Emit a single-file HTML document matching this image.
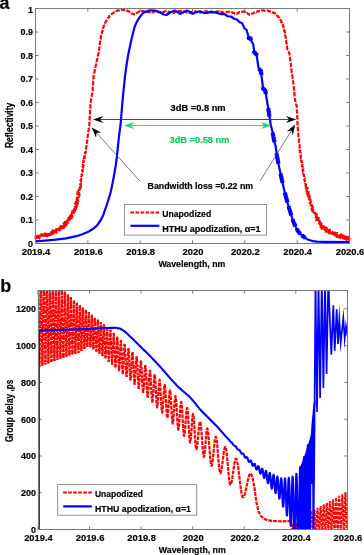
<!DOCTYPE html><html><head><meta charset="utf-8"><style>html,body{margin:0;padding:0;background:#fff;overflow:hidden}svg{display:block;will-change:transform}text{font-family:"Liberation Sans", sans-serif;font-weight:bold;stroke:currentColor;stroke-width:1.8px}</style></head><body>
<svg width="364" height="555" viewBox="0 0 364 555">
<rect width="364" height="555" fill="#fff"/>
<defs><clipPath id="ca"><rect x="35.5" y="8.5" width="314" height="235"/></clipPath>
<clipPath id="cb"><rect x="37.8" y="290.5" width="309.7" height="239"/></clipPath></defs>
<path d="M35.5 243.5v-3.2M35.5 8.5v3.2M87.83 243.5v-3.2M87.83 8.5v3.2M140.17 243.5v-3.2M140.17 8.5v3.2M192.5 243.5v-3.2M192.5 8.5v3.2M244.83 243.5v-3.2M244.83 8.5v3.2M297.17 243.5v-3.2M297.17 8.5v3.2M349.5 243.5v-3.2M349.5 8.5v3.2M35.5 243.5h3.2M349.5 243.5h-3.2M35.5 220h3.2M349.5 220h-3.2M35.5 196.5h3.2M349.5 196.5h-3.2M35.5 173h3.2M349.5 173h-3.2M35.5 149.5h3.2M349.5 149.5h-3.2M35.5 126h3.2M349.5 126h-3.2M35.5 102.5h3.2M349.5 102.5h-3.2M35.5 79h3.2M349.5 79h-3.2M35.5 55.5h3.2M349.5 55.5h-3.2M35.5 32h3.2M349.5 32h-3.2M35.5 8.5h3.2M349.5 8.5h-3.2" stroke="#7a7a7a" stroke-width="1" fill="none"/>
<polyline points="35.56,239.14 35.68,236.18 37.52,238.71 37.56,235.5 39.53,238.44 39.68,235.59 41.19,237.08 41.32,234.03 43.2,236.82 43.46,234.22 45.39,237.17 45.23,233.34 47.29,236.32 47.12,232.69 49.11,235.43 49.15,232.46 51,234.78 50.75,230.92 52.89,233.95 52.6,230.39 54.83,233.42 54.79,230.51 56.86,232.73 56.25,229.1 58.41,231.33 58.37,228.91 60.54,231.14 59.5,227.52 62.38,229.48 60.71,225.85 63.93,228.21 62.23,224.54 65.33,226.42 63.5,223.45 66.71,224.96 64.69,221.84 68.46,223.85 66.85,221.08 69.11,221.55 67.8,219.49 71.12,220.48 68.65,217.66 71.84,218.56 69.79,216.14 72.75,216.62 71.03,214.54 73.15,214.56 71.83,212.7 74.26,212.76 72.3,210.86 75.11,210.94 73.04,209 76.02,209.11 73.7,207.16 76.58,207.18 75.11,205.56 77.45,205.38 74.99,203.57 78.02,203.28 75.8,201.71 78.32,201.29 76.58,199.84 78.9,199.37 76.68,197.86 78.81,197.26 77.51,195.99 79.69,195.39 77.07,193.87 79.39,193.28 77.59,191.96 80.01,191.36 78.5,190.09 80.24,189.37 78.28,188.02 81.09,187.48 79.26,186.16 81.19,185.47 79.97,184.25 80.88,183.39 80.2,182.26 81.27,181.43 80.31,180.25 81.47,179.43 80.61,178.28 81.71,177.44 81.25,176.36 82.11,175.48 81.57,174.38 82.28,173.48 81.74,172.38 82.73,171.53 82.13,170.42 82.82,169.51 82.16,168.41 83.19,167.54 82.39,166.43 83.66,165.59 82.87,164.47 83.77,163.59 83.08,162.48 84.11,161.61 83.35,160.48 84.42,159.66 83.71,158.51 84.92,157.72 84.12,156.55 85.1,155.72 84.41,154.57 85.4,153.74 84.92,152.63 86.03,151.82 85.21,150.65 85.96,149.78 85.92,148.75 86.31,147.81 86.22,146.77 86.58,145.82 86.48,144.8 86.91,143.85 86.8,142.82 87.16,141.86 87,140.83 87.42,139.88 87.27,138.85 87.68,137.9 87.48,136.86 87.86,135.9 87.81,134.89 88.19,133.93 87.96,132.89 88.39,131.94 88.28,130.91 88.71,129.96 88.58,128.94 88.97,127.98 88.88,126.96 89.26,126 89.14,124.97 89.46,124 89.28,122.99 89.63,122.01 89.43,121 89.71,120.01 89.45,119 89.79,118.01 89.62,117 89.95,116.02 89.72,115 89.99,114.02 89.81,113.01 90.15,112.02 89.95,111.01 90.22,110.02 90.03,109.01 90.39,108.03 90.13,107.01 90.5,106.03 90.27,105.02 90.57,104.05 90.45,103.02 90.93,102.08 90.76,101.04 91.15,100.09 91.1,99.07 91.48,98.12 91.38,97.09 91.85,96.16 91.69,95.11 92.16,94.18 92.14,93.16 92.62,92.23 92.46,91.2 92.85,90.23 92.62,89.21 92.91,88.23 92.76,87.22 93.12,86.24 92.9,85.22 93.2,84.24 93.01,83.22 93.34,82.24 93.14,81.23 93.53,80.25 93.31,79.23 93.55,78.25 93.34,77.23 93.79,76.29 93.62,75.23 94.14,74.31 94.02,73.27 94.6,72.37 94.5,71.33 94.97,70.4 94.83,69.35 95.36,68.44 95.27,67.4 95.72,66.47 95.69,65.44 96.13,64.52 96.16,63.5 96.61,62.57 96.57,61.54 97.07,60.63 97.03,59.6 97.51,58.68 97.39,57.63 97.95,56.73 97.8,55.67 98.39,54.77 98.27,53.73 98.72,52.8 98.62,51.77 99.02,50.82 98.93,49.8 99.33,48.84 99.16,47.81 99.55,46.85 99.36,45.82 99.83,44.87 99.69,43.84 100.04,42.88 99.88,41.85 100.32,40.9 100.03,39.83 100.74,38.96 100.56,37.9 101.2,37.01 100.86,35.92 101.54,35.04 101.28,33.96 102.12,33.12 101.76,32 102.63,31.21 102.47,30.12 103.14,29.27 102.84,28.15 103.56,27.31 103.5,26.26 104.15,25.4 104.04,24.28 104.94,23.63 105,22.52 105.96,21.91 106.04,20.82 106.78,20.08 106.98,19.05 107.83,18.43 108.24,17.46 109.26,17.02 109.4,15.82 110.41,15.37 110.75,14.35 111.82,14.08 112.48,13.22 113.55,13.08 114.17,12.15 115.31,12.12 115.93,11.2 117,11.04 117.79,10.33 118.84,10.55 119.76,9.98 120.83,10.37 121.74,9.71 122.79,9.93 123.73,9.45 124.64,10.07 125.74,9.92 126.52,10.77 127.63,10.58 128.28,11.45 129.42,11.59 129.92,12.59 130.99,12.84 131.62,13.79 132.72,13.55 133.55,14.31 134.65,14.09 135.55,14.11 136.14,13.19 137.21,13 137.78,12.01 138.86,11.89 139.54,11.06 140.56,11.26 141.6,10.78 142.55,11.51 143.59,11.02 144.5,11.66 145.61,11.23 146.49,11.92 147.55,11.7 148.45,12.3 149.53,12.03 150.5,12.55 151.37,11.77 152.47,12.2 153.34,11.43 154.43,11.81 155.41,11.23 156.29,11.88 157.36,11.7 158.24,12.32 159.28,12.25 160.29,12.84 161.15,12.16 162.2,12.22 163.09,11.67 164.18,11.91 165.03,11.18 166.08,11.25 167.11,10.9 167.86,11.72 168.97,11.64 169.67,12.57 170.82,12.39 171.51,13.37 172.47,12.74 173.61,12.92 174.38,12.14 175.48,12.2 176.22,11.33 177.27,11.58 178.25,11.08 179.27,11.48 180.24,10.8 181.26,11.24 182.24,10.83 183.13,11.33 184.28,11.17 185.02,12.01 186.08,12.04 186.87,12.76 187.97,12.7 188.91,13.04 189.72,12.25 190.81,12.39 191.64,11.68 192.72,11.81 193.55,11.1 194.55,11.49 195.61,11.32 196.45,12.13 197.56,11.8 198.41,12.53 199.49,12.3 200.5,12.76 201.31,11.94 202.43,12.24 203.26,11.47 204.35,11.69 205.18,10.93 206.12,11.38 207.23,11.19 208.09,11.79 209.18,11.64 209.95,12.53 211.08,12.26 211.9,13.01 212.86,12.28 213.95,12.5 214.83,11.89 215.89,12.01 216.75,11.34 217.84,11.55 218.8,11.28 219.68,11.96 220.79,11.56 221.65,12.3 222.73,12.03 223.6,12.75 224.57,12.16 225.66,12.54 226.55,11.89 227.61,12.07 228.52,11.55 229.58,11.73 230.57,11.41 231.31,12.19 232.39,12.24 233.12,13.04 234.25,12.99 234.96,13.83 236.09,13.77 236.94,14.05 237.55,13.11 238.67,13.04 239.26,12.06 240.35,12.28 241.3,11.62 242.34,12.03 243.29,11.41 244.34,11.93 245.3,11.88 245.89,12.83 247.07,12.8 247.63,13.82 248.71,13.96 249.37,14.8 250.2,14.41 251.35,14.45 251.95,13.43 253.14,13.55 253.78,12.63 254.84,12.49 255.65,11.83 256.72,11.94 257.57,11.24 258.69,11.58 259.49,10.7 260.59,10.96 261.43,10.21 262.48,10.64 263.51,10.28 264.47,10.88 265.5,10.51 266.47,10.9 267.51,10.5 268.46,11.09 269.5,11 270.28,11.79 271.4,11.62 272.2,12.36 273.26,12.37 274.05,13.13 275.15,13.02 275.63,14.06 276.64,14.5 276.85,15.65 277.94,16.02 278.25,17.08 279.23,17.55 279.54,18.53 280.42,19.21 280.47,20.3 281.35,20.98 281.21,22.17 282.1,22.84 282.1,23.96 283.05,24.6 282.82,25.74 283.65,26.56 283.41,27.65 284.12,28.51 283.82,29.61 284.63,30.44 284.38,31.53 285.1,32.38 284.72,33.51 285.49,34.37 285.11,35.44 285.66,36.37 285.4,37.42 285.99,38.34 285.64,39.4 286.22,40.33 286.06,41.36 286.45,42.32 286.33,43.34 286.78,44.29 286.67,45.32 287.1,46.26 286.9,47.3 287.29,48.26 287.25,49.32 287.95,50.09 288.21,51.08 288.91,51.84 289.07,52.88 289.69,53.72 289.5,54.75 289.91,55.71 289.78,56.73 290.12,57.7 290.05,58.72 290.42,59.68 290.21,60.71 290.64,61.67 290.45,62.7 290.85,63.66 290.74,64.68 291.1,65.64 290.91,66.67 291.29,67.63 291.19,68.65 291.56,69.61 291.4,70.64 291.82,71.59 291.72,72.62 292.11,73.57 291.98,74.6 292.44,75.55 292.29,76.58 292.73,77.53 292.6,78.55 292.94,79.52 292.88,80.53 293.21,81.5 293.09,82.53 293.56,83.47 293.44,84.5 293.78,85.46 293.68,86.47 294.07,87.44 293.8,88.47 294.23,89.44 294,90.46 294.33,91.44 294.18,92.45 294.5,93.43 294.34,94.45 294.71,95.42 294.54,96.44 294.84,97.41 294.64,98.43 294.98,99.41 294.97,100.43 295.58,101.3 295.48,102.36 296.05,103.25 296.05,104.28 296.6,105.17 296.55,106.18 296.95,107.17 296.64,108.18 296.96,109.17 296.71,110.18 297.08,111.16 296.84,112.18 297.2,113.16 297,114.17 297.3,115.16 297.02,116.17 297.37,117.16 297.13,118.17 297.46,119.15 297.27,120.16 297.56,121.15 297.38,122.16 297.65,123.15 297.4,124.16 297.74,125.14 297.53,126.16 297.95,127.13 297.64,128.16 297.99,129.14 297.79,130.15 298.19,131.13 298.02,132.14 298.3,133.12 298.14,134.14 298.43,135.12 298.3,136.14 298.75,137.09 298.55,138.12 298.97,139.08 298.73,140.11 299.1,141.08 298.93,142.1 299.38,143.06 299.15,144.09 299.62,145.05 299.39,146.08 299.79,147.04 299.61,148.07 300.09,149.02 299.46,150.1 300.51,150.98 299.72,152.08 300.75,152.97 300.18,154.04 300.82,154.97 300.41,156.03 301.1,156.96 300.65,158.03 301.52,158.89 300.79,160.03 301.87,160.87 301.22,161.99 302.24,162.83 301.59,163.95 302.5,164.82 301.76,165.95 302.81,166.79 302.29,167.89 303.31,168.74 302.43,169.9 303.45,170.74 302.88,171.85 303.84,172.7 303.13,173.83 304.06,174.69 303.67,175.77 304.38,176.67 303.72,177.79 304.69,178.64 304.2,179.77 305.13,180.57 304.77,181.69 305.61,182.51 305.18,183.65 306.09,184.45 305.43,185.65 306.96,186.3 305.79,187.62 307.77,188.16 306.37,189.53 307.85,190.2 306.51,191.56 308.66,192.06 306.77,193.56 308.83,194.04 307.57,195.46 309.7,195.87 308.48,197.28 310.77,197.64 308.89,199.25 310.59,199.78 309.24,201.23 311.23,201.67 309.69,203.18 311.96,203.54 310.7,204.97 312.28,205.53 310.81,207.14 313.13,207.28 311.5,209.02 314.04,209.07 312.13,210.92 314.65,210.98 313.45,212.55 315.37,212.85 313.72,214.59 316.92,214.38 314.47,216.45 317.01,216.5 314.81,218.47 318.83,217.92 316.06,220.55 318.7,219.82 317.85,221.71 319.99,221.36 318.9,223.42 321.13,223 320.22,224.93 322.98,224.12 320.52,227.2 323.69,226.08 321.64,228.86 325.18,227.46 323.85,230.74 326.53,227.57 325.56,231.79 327.81,229.5 327.73,231.93 329.94,229.71 329.14,233.57 331.42,231.21 331.32,233.69 333.66,231.2 333.21,234.36 335.08,232.54 335.04,235.44 337.09,232.9 336.63,236.89 338.72,234.24 338.59,237.37 340.85,234.27 340.41,238.21 342.63,235.21 342.23,239.03 344.41,236.16 344.61,239.06 346.11,236.7 346.47,239.93 348.13,236.77 348.56,239.67 350.01,237.58" fill="none" stroke="#ff0000" stroke-width="2.1" stroke-dasharray="4.6 1.5" stroke-linejoin="round"/>
<polyline points="248.46,36.77 248.55,37.08 248.63,37.38 248.72,37.69 248.8,38 248.8,38 250.5,38.5 250.5,38.5 250.63,38.83 250.77,39.15 250.9,39.48 251.03,39.8 251.17,40.12 251.3,40.45" fill="none" stroke="#0000ff" stroke-width="4.2" stroke-linecap="butt" clip-path="url(#ca)"/>
<polyline points="254.1,50.76 254.14,51.07 254.18,51.38 254.22,51.69 254.26,51.99 254.3,52.3 254.3,52.3 254.61,52.61 254.93,52.93 255.24,53.24 255.56,53.56 255.87,53.87 256.19,54.19 256.5,54.5 256.5,54.5 256.55,54.8 256.59,55.1 256.64,55.41 256.69,55.71" fill="none" stroke="#0000ff" stroke-width="4.2" stroke-linecap="butt" clip-path="url(#ca)"/>
<polyline points="258.7,68.7 258.7,68.7 259.01,69.01 259.33,69.33 259.64,69.64 259.96,69.96 260.27,70.27 260.59,70.59 260.9,70.9 260.9,70.9 260.94,71.2 260.98,71.51 261.01,71.81 261.05,72.11 261.09,72.42 261.13,72.72 261.17,73.02 261.2,73.33 261.24,73.63 261.28,73.93 261.32,74.24 261.36,74.54 261.39,74.84" fill="none" stroke="#0000ff" stroke-width="4.2" stroke-linecap="butt" clip-path="url(#ca)"/>
<polyline points="262.95,87.29 262.99,87.59 263.02,87.89 263.06,88.2 263.1,88.5 263.1,88.5 263.41,88.81 263.73,89.13 264.04,89.44 264.36,89.76 264.67,90.07 264.99,90.39 265.3,90.7 265.3,90.7 265.35,91 265.4,91.3 265.45,91.6 265.5,91.9 265.55,92.2 265.6,92.5 265.65,92.8 265.7,93.1 265.75,93.4 265.8,93.7 265.85,94" fill="none" stroke="#0000ff" stroke-width="4.2" stroke-linecap="butt" clip-path="url(#ca)"/>
<polyline points="268.2,108.1 268.25,108.4 268.3,108.7 268.35,109 268.4,109.3 268.45,109.6 268.5,109.9 268.55,110.2 268.6,110.5 268.6,110.5 268.65,110.8 268.69,111.1 268.74,111.41 268.78,111.71 268.83,112.01 268.88,112.31 268.92,112.61 268.97,112.92 269.01,113.22 269.06,113.52 269.1,113.82 269.15,114.12 269.2,114.43 269.24,114.73 269.29,115.03 269.33,115.33 269.38,115.64 269.43,115.94 269.47,116.24 269.52,116.54 269.56,116.84" fill="none" stroke="#0000ff" stroke-width="4.2" stroke-linecap="butt" clip-path="url(#ca)"/>
<polyline points="272.71,132.62 272.76,132.92 272.82,133.23 272.87,133.54 272.92,133.85 272.98,134.15 273.03,134.46 273.08,134.77 273.14,135.08 273.19,135.38 273.25,135.69 273.3,136 273.35,136.31 273.41,136.62 273.46,136.92 273.52,137.23 273.57,137.54 273.62,137.85 273.68,138.15 273.73,138.46 273.78,138.77 273.84,139.08 273.89,139.38 273.95,139.69 274,140 274,140 274.08,140.31 274.16,140.63 274.24,140.94 274.32,141.26 274.4,141.57 274.49,141.89 274.57,142.2" fill="none" stroke="#0000ff" stroke-width="4.2" stroke-linecap="butt" clip-path="url(#ca)"/>
<polyline points="276.63,153.2 276.67,153.5 276.71,153.8 276.75,154.1 276.79,154.4 276.84,154.7 276.88,155 276.92,155.3 276.96,155.6 277.01,155.9 277.05,156.2 277.09,156.5 277.13,156.8 277.17,157.1 277.22,157.4 277.26,157.7 277.3,158 277.3,158 277.36,158.3 277.42,158.61 277.48,158.91 277.54,159.21 277.6,159.52 277.66,159.82 277.72,160.12 277.78,160.42 277.85,160.73 277.91,161.03 277.97,161.33 278.03,161.64 278.09,161.94 278.15,162.24 278.21,162.55 278.27,162.85 278.33,163.15 278.39,163.45 278.45,163.76" fill="none" stroke="#0000ff" stroke-width="4.2" stroke-linecap="butt" clip-path="url(#ca)"/>
<polyline points="280.57,173.76 280.63,174.06 280.7,174.36 280.77,174.67 280.83,174.97 280.9,175.27 280.97,175.58 281.03,175.88 281.1,176.18 281.17,176.48 281.23,176.79 281.3,177.09 281.37,177.39 281.43,177.7 281.5,178 281.5,178 281.57,178.31 281.64,178.61 281.7,178.92 281.77,179.23 281.84,179.53 281.91,179.84 281.97,180.15 282.04,180.45 282.11,180.76 282.18,181.06 282.25,181.37 282.31,181.68 282.38,181.98 282.45,182.29 282.52,182.6 282.58,182.9" fill="none" stroke="#0000ff" stroke-width="4.2" stroke-linecap="butt" clip-path="url(#ca)"/>
<polyline points="284.84,192.4 284.92,192.71 284.99,193.02 285.07,193.32 285.15,193.63 285.23,193.94 285.3,194.24 285.38,194.55 285.46,194.85 285.54,195.16 285.61,195.47 285.69,195.77 285.77,196.08 285.85,196.39 285.92,196.69 286,197 286,197 286.08,197.3 286.16,197.6 286.24,197.9 286.32,198.2 286.4,198.5 286.48,198.8 286.56,199.1 286.64,199.4 286.72,199.7 286.8,200 286.88,200.3 286.96,200.6 287.04,200.9 287.12,201.2 287.2,201.5 287.28,201.8 287.36,202.1 287.44,202.4" fill="none" stroke="#0000ff" stroke-width="4.2" stroke-linecap="butt" clip-path="url(#ca)"/>
<polyline points="288.48,206.05 288.57,206.36 288.67,206.67 288.76,206.98 288.86,207.29 288.95,207.6 289.05,207.9 289.14,208.21 289.24,208.52 289.33,208.83 289.43,209.14 289.52,209.45 289.62,209.76 289.71,210.07 289.81,210.38 289.9,210.69 290,211 290,211 290.1,211.31 290.19,211.62 290.29,211.93 290.38,212.24 290.48,212.55 290.57,212.86 290.67,213.17 290.76,213.48 290.86,213.79 290.95,214.1 291.05,214.4 291.14,214.71 291.24,215.02 291.33,215.33" fill="none" stroke="#0000ff" stroke-width="4.2" stroke-linecap="butt" clip-path="url(#ca)"/>
<polyline points="292.53,219.06 292.64,219.38 292.74,219.69 292.85,220 292.96,220.31 293.06,220.62 293.17,220.94 293.27,221.25 293.38,221.56 293.49,221.88 293.59,222.19 293.7,222.5 293.7,222.5 293.84,222.8 293.98,223.1 294.12,223.4 294.26,223.7 294.4,224 294.54,224.3 294.68,224.6 294.82,224.9 294.96,225.2 295.1,225.5 295.24,225.8 295.38,226.1 295.52,226.4" fill="none" stroke="#0000ff" stroke-width="4.2" stroke-linecap="butt" clip-path="url(#ca)"/>
<polyline points="296.62,228.59 296.78,228.91 296.95,229.23 297.11,229.55 297.27,229.86 297.44,230.18 297.6,230.5 297.6,230.5 297.84,230.81 298.08,231.12 298.31,231.44 298.55,231.75 298.79,232.06 299.02,232.38 299.26,232.69 299.5,233 299.5,233 299.8,233.3 300.1,233.6 300.4,233.9" fill="none" stroke="#0000ff" stroke-width="4.2" stroke-linecap="butt" clip-path="url(#ca)"/>
<polyline points="301.75,235.12 302.12,235.44 302.5,235.75 302.88,236.06 303.25,236.38 303.62,236.69 304,237 304,237 304.43,237.31 304.86,237.63 305.29,237.94" fill="none" stroke="#0000ff" stroke-width="4.2" stroke-linecap="butt" clip-path="url(#ca)"/>
<polyline points="35.2,241.4 45,240.6 55.7,239.6 66,238.3 76.4,236.2 83,234 88.8,231.5 93,228.8 97.1,225.3 100.8,220 103.3,214.9 106.2,206.5 108.5,199.5 110.7,192 112.6,183 114.3,174 115.8,165 117,156 118.8,138 120.6,124 122.8,97.9 125,76.3 126.6,64.5 128.2,54.7 131.4,39.6 134.7,26.6 137,21.5 139,18 143.3,12.6 149.8,10.4 155,10.5 160.5,12.4 163.5,14.5 166.5,15 170,12.5 174.7,10.6 177.5,12 180.2,13.8 184,12 187,10.6 190,12 192.6,13.8 196,12.2 200,11.2 203.5,12.8 207,13 211,11.6 214.8,12.4 218,13.2 221.4,14.1 224.5,14 228,16.5 231,16.5 234.6,19 237,19.5 239.5,22.3 242,23 244.4,28.1 246.6,30 248.8,38 250.5,38.5 252.1,42.4 253.2,44 254.3,52.3 256.5,54.5 258.7,68.7 260.9,70.9 263.1,88.5 265.3,90.7 268.6,110.5 270.8,125 272.6,132 274,140 275.7,146.6 277.3,158 279.3,168 281.5,178 283.6,187.5 286,197 288,204.5 290,211 292,217.5 293.7,222.5 295.8,227 297.6,230.5 299.5,233 301,234.5 304,237 307,239.2 310,240.3 313,241.1 317,241.7 325,241.9 349.9,242" fill="none" stroke="#0000ff" stroke-width="2.2" stroke-linejoin="round"/>
</g>
<rect x="35.5" y="8.5" width="314" height="235" fill="none" stroke="#7a7a7a" stroke-width="1"/>
<line x1="95" y1="119.5" x2="294" y2="119.5" stroke="#333" stroke-width="0.9"/>
<path d="M93 119.5L103.3 115.9L100 119.5L103.3 123.1Z" fill="#000"/>
<path d="M296.2 119.5L285.9 123.1L289.2 119.5L285.9 115.9Z" fill="#000"/>
<line x1="126" y1="125.5" x2="269" y2="125.5" stroke="#1ed47a" stroke-width="0.9"/>
<path d="M123.9 125.5L134.2 121.9L130.9 125.5L134.2 129.1Z" fill="#1ed47a"/>
<path d="M271.2 125.5L260.9 129.1L264.2 125.5L260.9 121.9Z" fill="#1ed47a"/>
<line x1="94" y1="130" x2="139.9" y2="181" stroke="#444" stroke-width="0.7"/>
<path d="M91.8 127.6L101.37 132.84L96.48 132.8L96.02 137.66Z" fill="#000"/>
<line x1="260.1" y1="181" x2="293.8" y2="126.8" stroke="#444" stroke-width="0.7"/>
<path d="M295.2 124.6L292.81 135.25L291.5 130.54L286.7 131.44Z" fill="#000"/>
<text transform="translate(170.6 110.9) scale(0.1)" font-size="86" textLength="550" lengthAdjust="spacingAndGlyphs" fill="#000" color="#000">3dB =0.8 nm</text>
<text transform="translate(169.5 143.3) scale(0.1)" font-size="86" textLength="600" lengthAdjust="spacingAndGlyphs" fill="#12c862" color="#12c862">3dB =0.58 nm</text>
<text transform="translate(147.6 188.6) scale(0.1)" font-size="86" textLength="1055" lengthAdjust="spacingAndGlyphs" fill="#000" color="#000">Bandwidth loss =0.22 nm</text>
<rect x="124.5" y="204.5" width="142" height="30.6" fill="#fff" stroke="#888" stroke-width="0.9"/>
<line x1="130.5" y1="212.6" x2="159.4" y2="212.6" stroke="#ff0000" stroke-width="2" stroke-dasharray="3.6 1.4"/>
<line x1="130.5" y1="225.8" x2="159.4" y2="225.8" stroke="#0000ff" stroke-width="2.2"/>
<text transform="translate(162.2 216.6) scale(0.1)" font-size="86" textLength="490" lengthAdjust="spacingAndGlyphs" fill="#000" color="#000">Unapodized</text>
<text transform="translate(162.2 231.8) scale(0.1)" font-size="86" textLength="984" lengthAdjust="spacingAndGlyphs" fill="#000" color="#000">HTHU apodization, &#945;=1</text>
<text transform="translate(33 246.9) scale(0.1 0.11)" font-size="90" text-anchor="end">0</text>
<text transform="translate(33 223.4) scale(0.1 0.11)" font-size="90" text-anchor="end">0.1</text>
<text transform="translate(33 199.9) scale(0.1 0.11)" font-size="90" text-anchor="end">0.2</text>
<text transform="translate(33 176.4) scale(0.1 0.11)" font-size="90" text-anchor="end">0.3</text>
<text transform="translate(33 152.9) scale(0.1 0.11)" font-size="90" text-anchor="end">0.4</text>
<text transform="translate(33 129.4) scale(0.1 0.11)" font-size="90" text-anchor="end">0.5</text>
<text transform="translate(33 105.9) scale(0.1 0.11)" font-size="90" text-anchor="end">0.6</text>
<text transform="translate(33 82.4) scale(0.1 0.11)" font-size="90" text-anchor="end">0.7</text>
<text transform="translate(33 58.9) scale(0.1 0.11)" font-size="90" text-anchor="end">0.8</text>
<text transform="translate(33 35.4) scale(0.1 0.11)" font-size="90" text-anchor="end">0.9</text>
<text transform="translate(33 12.8) scale(0.1 0.11)" font-size="90" text-anchor="end">1</text>
<text transform="translate(36 255) scale(0.1)" font-size="90" text-anchor="middle" textLength="286.23" lengthAdjust="spacingAndGlyphs" fill="#000" color="#000">2019.4</text>
<text transform="translate(88.33 255) scale(0.1)" font-size="90" text-anchor="middle" textLength="286.23" lengthAdjust="spacingAndGlyphs" fill="#000" color="#000">2019.6</text>
<text transform="translate(140.67 255) scale(0.1)" font-size="90" text-anchor="middle" textLength="286.23" lengthAdjust="spacingAndGlyphs" fill="#000" color="#000">2019.8</text>
<text transform="translate(193 255) scale(0.1)" font-size="90" text-anchor="middle" textLength="208.17" lengthAdjust="spacingAndGlyphs" fill="#000" color="#000">2020</text>
<text transform="translate(245.33 255) scale(0.1)" font-size="90" text-anchor="middle" textLength="286.23" lengthAdjust="spacingAndGlyphs" fill="#000" color="#000">2020.2</text>
<text transform="translate(297.67 255) scale(0.1)" font-size="90" text-anchor="middle" textLength="286.23" lengthAdjust="spacingAndGlyphs" fill="#000" color="#000">2020.4</text>
<text transform="translate(350 255) scale(0.1)" font-size="90" text-anchor="middle" textLength="286.23" lengthAdjust="spacingAndGlyphs" fill="#000" color="#000">2020.6</text>
<text transform="translate(191.9 267.3) scale(0.1)" font-size="90" text-anchor="middle" textLength="670" lengthAdjust="spacingAndGlyphs" fill="#000" color="#000">Wavelength, nm</text>
<text transform="translate(12.6 125.4) rotate(-90) scale(0.1)" font-size="106" text-anchor="middle" textLength="454" lengthAdjust="spacingAndGlyphs" fill="#000" color="#000">Reflectivity</text>
<text transform="translate(-0.6 9.1) scale(0.1)" font-size="180" fill="#000" color="#000">a</text>
<path d="M37.95 529.5v-3.2M37.95 290.5v3.2M89.53 529.5v-3.2M89.53 290.5v3.2M141.1 529.5v-3.2M141.1 290.5v3.2M192.68 529.5v-3.2M192.68 290.5v3.2M244.25 529.5v-3.2M244.25 290.5v3.2M295.82 529.5v-3.2M295.82 290.5v3.2M347.4 529.5v-3.2M347.4 290.5v3.2M38.5 529.5h3.2M347.5 529.5h-3.2M38.5 492.73h3.2M347.5 492.73h-3.2M38.5 455.96h3.2M347.5 455.96h-3.2M38.5 419.19h3.2M347.5 419.19h-3.2M38.5 382.42h3.2M347.5 382.42h-3.2M38.5 345.65h3.2M347.5 345.65h-3.2M38.5 308.88h3.2M347.5 308.88h-3.2" stroke="#7a7a7a" stroke-width="1" fill="none"/>
<g clip-path="url(#cb)">
<g fill="none" stroke="#ff0000" stroke-width="2.2" stroke-dasharray="3.8 1.0 2.6 0.8 4.6 1.1 3.1 0.9" stroke-linejoin="round">
<polyline points="37.9,270 38.65,318.37 39.4,366.74" stroke-dashoffset="12.97"/>
<polyline points="39.4,366.74 40.15,319.36 40.9,271.98" stroke-dashoffset="10.9"/>
<polyline points="40.9,271.98 41.65,318.8 42.4,365.61" stroke-dashoffset="12.79"/>
<polyline points="42.4,365.61 43.15,319.79 43.9,273.97" stroke-dashoffset="6.96"/>
<polyline points="43.9,273.97 44.65,319.23 45.4,364.48" stroke-dashoffset="8.77"/>
<polyline points="45.4,364.48 46.15,320.22 46.9,275.95" stroke-dashoffset="2.77"/>
<polyline points="46.9,275.95 47.65,319.65 48.4,363.36" stroke-dashoffset="12.79"/>
<polyline points="48.4,363.36 49.15,320.65 49.9,277.93" stroke-dashoffset="0.41"/>
<polyline points="49.9,277.93 50.65,320.08 51.4,362.23" stroke-dashoffset="8.4"/>
<polyline points="51.4,362.23 52.15,321.45 52.9,280.68" stroke-dashoffset="13.65"/>
<polyline points="52.9,280.68 53.65,320.89 54.4,361.1" stroke-dashoffset="12.19"/>
<polyline points="54.4,361.1 55.15,322.27 55.9,283.45" stroke-dashoffset="1.75"/>
<polyline points="55.9,283.45 56.65,321.71 57.4,359.98" stroke-dashoffset="4.27"/>
<polyline points="57.4,359.98 58.15,323.1 58.9,286.22" stroke-dashoffset="15.19"/>
<polyline points="58.9,286.22 59.65,322.54 60.4,358.87" stroke-dashoffset="11.56"/>
<polyline points="60.4,358.87 61.15,323.93 61.9,288.98" stroke-dashoffset="15.81"/>
<polyline points="61.9,288.98 62.65,323.45 63.4,357.92" stroke-dashoffset="15.7"/>
<polyline points="63.4,357.92 64.15,324.83 64.9,291.74" stroke-dashoffset="8.1"/>
<polyline points="64.9,291.74 65.65,324.35 66.4,356.97" stroke-dashoffset="16.14"/>
<polyline points="66.4,356.97 67.15,325.72 67.9,294.48" stroke-dashoffset="13.19"/>
<polyline points="67.9,294.48 68.65,325.25 69.4,356.02" stroke-dashoffset="6.01"/>
<polyline points="69.4,356.02 70.15,326.62 70.9,297.22" stroke-dashoffset="6.66"/>
<polyline points="70.9,297.22 71.65,326.14 72.4,355.07" stroke-dashoffset="1.3"/>
<polyline points="72.4,355.07 73.15,327.51 73.9,299.96" stroke-dashoffset="7.19"/>
<polyline points="73.9,299.96 74.65,327.04 75.4,354.12" stroke-dashoffset="17.2"/>
<polyline points="75.4,354.12 76.15,328.41 76.9,302.7" stroke-dashoffset="1.89"/>
<polyline points="76.9,302.7 77.65,327.86 78.4,353.03" stroke-dashoffset="10.24"/>
<polyline points="78.4,353.03 79.15,329.09 79.9,305.16" stroke-dashoffset="1.98"/>
<polyline points="79.9,305.16 80.65,328.07 81.4,350.98" stroke-dashoffset="1.46"/>
<polyline points="81.4,350.98 82.15,329.22 82.9,307.47" stroke-dashoffset="11.68"/>
<polyline points="82.9,307.47 83.65,328.2 84.4,348.93" stroke-dashoffset="4.33"/>
<polyline points="84.4,348.93 85.15,329.35 85.9,309.77" stroke-dashoffset="0.88"/>
<polyline points="85.9,309.77 86.65,328.33 87.4,346.89" stroke-dashoffset="2.75"/>
<polyline points="87.4,346.89 88.15,329.52 88.9,312.15" stroke-dashoffset="11.6"/>
<polyline points="88.9,312.15 89.65,329.68 90.4,347.2" stroke-dashoffset="10.54"/>
<polyline points="90.4,347.2 91.15,330.91 91.9,314.62" stroke-dashoffset="0.21"/>
<polyline points="91.9,314.62 92.65,331.97 93.4,349.33" stroke-dashoffset="4.14"/>
<polyline points="93.4,349.33 94.15,333.2 94.9,317.08" stroke-dashoffset="17.41"/>
<polyline points="94.9,317.08 95.65,334.27 96.4,351.45" stroke-dashoffset="3.96"/>
<polyline points="96.4,351.45 97.15,335.5 97.9,319.55" stroke-dashoffset="10.12"/>
<polyline points="97.9,319.55 98.65,336.56 99.4,353.58" stroke-dashoffset="7.55"/>
<polyline points="99.4,353.58 100.15,337.79 100.9,322.01" stroke-dashoffset="14.06"/>
<polyline points="100.9,322.01 101.66,339.09 102.42,356.17" stroke-dashoffset="10.88"/>
<polyline points="102.42,356.17 103.19,340.35 103.96,324.52" stroke-dashoffset="14.2"/>
<polyline points="103.96,324.52 104.74,341.75 105.52,358.97" stroke-dashoffset="9.63"/>
<polyline points="105.52,358.97 106.32,343.05 107.12,327.12" stroke-dashoffset="3.39"/>
<polyline points="107.12,327.12 107.93,344.49 108.74,361.86" stroke-dashoffset="3.2"/>
<polyline points="108.74,361.86 109.56,345.84 110.39,329.81" stroke-dashoffset="1.42"/>
<polyline points="110.39,329.81 111.23,347.33 112.06,364.86" stroke-dashoffset="14.86"/>
<polyline points="112.06,364.86 112.92,348.87 113.77,332.89" stroke-dashoffset="2.03"/>
<polyline points="113.77,332.89 114.64,350.42 115.5,367.95" stroke-dashoffset="0.43"/>
<polyline points="115.5,367.95 116.38,352.19 117.27,336.43" stroke-dashoffset="17.4"/>
<polyline points="117.27,336.43 118.16,353.79 119.06,371.15" stroke-dashoffset="3.59"/>
<polyline points="119.06,371.15 119.67,363.39 120.28,347.86 120.88,340.09" stroke-dashoffset="16.08"/>
<polyline points="120.88,340.09 121.5,348.58 122.12,365.56 122.74,374.05" stroke-dashoffset="1.54"/>
<polyline points="122.74,374.05 123.37,366.51 124,351.43 124.63,343.88" stroke-dashoffset="8.37"/>
<polyline points="124.63,343.88 125.27,352.14 125.9,368.65 126.54,376.91" stroke-dashoffset="4.01"/>
<polyline points="126.54,376.91 127.19,369.63 127.84,355.09 128.5,347.81" stroke-dashoffset="14.93"/>
<polyline points="128.5,347.81 129.16,355.98 129.82,372.31 130.48,380.48" stroke-dashoffset="11.08"/>
<polyline points="130.48,380.48 131.15,373.35 131.83,359.08 132.5,351.94" stroke-dashoffset="11.55"/>
<polyline points="132.5,351.94 133.18,360.09 133.87,376.4 134.55,384.55" stroke-dashoffset="13.71"/>
<polyline points="134.55,384.55 135.25,377.47 135.94,363.3 136.64,356.21" stroke-dashoffset="15.69"/>
<polyline points="136.64,356.21 137.35,364.35 138.05,380.62 138.76,388.76" stroke-dashoffset="6.23"/>
<polyline points="138.76,388.76 139.48,381.73 140.2,367.66 140.92,360.63" stroke-dashoffset="10.86"/>
<polyline points="140.92,360.63 141.65,368.75 142.38,384.99 143.12,393.12" stroke-dashoffset="8.02"/>
<polyline points="143.12,393.12 143.86,386.14 144.6,372.18 145.35,365.2" stroke-dashoffset="2"/>
<polyline points="145.35,365.2 146.11,373.3 146.86,389.51 147.62,397.62" stroke-dashoffset="15.04"/>
<polyline points="147.62,397.62 148.39,390.7 149.16,376.85 149.93,369.93" stroke-dashoffset="10.7"/>
<polyline points="149.93,369.93 150.71,378.04 151.49,394.26 152.28,402.37" stroke-dashoffset="14.67"/>
</g>
<polyline points="152.28,402.37 152.68,400.52 153.07,395.47 153.47,388.57 153.87,381.66 154.27,376.61 154.67,374.76 155.08,376.95 155.48,382.92 155.89,391.08 156.29,399.23 156.7,405.21 157.11,407.39 157.46,406.02 157.82,402.19 158.17,396.66 158.53,390.51 158.88,384.98 159.23,381.15 159.59,379.78 159.95,381.41 160.31,385.96 160.67,392.54 161.03,399.84 161.39,406.42 161.76,410.98 162.12,412.6 162.49,411.23 162.85,407.4 163.22,401.87 163.59,395.72 163.96,390.19 164.32,386.35 164.69,384.99 165.07,386.62 165.44,391.2 165.82,397.82 166.19,405.17 166.57,411.79 166.94,416.37 167.32,418.01 167.7,416.64 168.08,412.81 168.46,407.27 168.84,401.13 169.22,395.59 169.61,391.76 169.99,390.39 170.38,392.03 170.77,396.64 171.15,403.31 171.54,410.7 171.93,417.36 172.32,421.97 172.71,423.62 173.11,422.25 173.5,418.42 173.9,412.88 174.29,406.73 174.69,401.2 175.09,397.36 175.48,396 175.84,397.28 176.19,400.92 176.54,406.37 176.89,412.81 177.25,419.24 177.6,424.69 177.95,428.34 178.31,429.62 178.67,428.56 179.03,425.55 179.39,421.05 179.74,415.74 180.1,410.42 180.46,405.92 180.82,402.91 181.18,401.86 181.55,403.15 181.92,406.85 182.28,412.38 182.65,418.91 183.01,425.44 183.38,430.97 183.75,434.67 184.11,435.97 184.49,434.9 184.86,431.86 185.23,427.32 185.61,421.95 185.98,416.59 186.35,412.04 186.73,409 187.1,407.93 187.48,409.25 187.86,413 188.24,418.62 188.62,425.25 189,431.87 189.38,437.49 189.76,441.24 190.14,442.56 190.5,441.47 190.85,438.38 191.21,433.74 191.57,428.28 191.93,422.82 192.28,418.18 192.64,415.09 193,414 193.37,415.06 193.73,418.13 194.1,422.82 194.47,428.59 194.83,434.71 195.2,440.48 195.57,445.17 195.93,448.24 196.3,449.3 196.68,448.62 197.06,446.65 197.44,443.59 197.82,439.73 198.2,435.45 198.58,431.17 198.96,427.31 199.34,424.25 199.72,422.28 200.1,421.6 200.48,422.46 200.86,424.97 201.24,428.88 201.62,433.8 202,439.25 202.38,444.7 202.76,449.62 203.14,453.53 203.52,456.04 203.9,456.9 204.27,456.04 204.63,453.57 205,449.77 205.37,445.12 205.73,440.18 206.1,435.52 206.47,431.73 206.83,429.26 207.2,428.4 207.56,429.04 207.92,430.91 208.27,433.88 208.63,437.75 208.99,442.26 209.35,447.1 209.71,451.94 210.07,456.45 210.43,460.32 210.78,463.29 211.14,465.16 211.5,465.8 211.86,465.3 212.22,463.85 212.57,461.54 212.93,458.53 213.29,455.02 213.65,451.25 214.01,447.48 214.37,443.98 214.73,440.96 215.08,438.65 215.44,437.2 215.8,436.7 216.18,437.32 216.55,439.15 216.93,442.06 217.3,445.85 217.68,450.26 218.05,455 218.43,459.74 218.8,464.15 219.18,467.94 219.55,470.85 219.93,472.68 220.3,473.3 220.66,472.97 221.01,471.99 221.37,470.41 221.73,468.31 222.09,465.8 222.44,463 222.8,460.05 223.16,457.1 223.51,454.3 223.87,451.79 224.23,449.69 224.59,448.11 224.94,447.13 225.3,446.8 225.66,447.28 226.03,448.68 226.39,450.93 226.76,453.93 227.12,457.53 227.49,461.53 227.85,465.75 228.21,469.97 228.58,473.97 228.94,477.57 229.31,480.57 229.67,482.82 230.04,484.22 230.4,484.7 230.77,484.42 231.15,483.58 231.52,482.22 231.89,480.4 232.27,478.2 232.64,475.72 233.01,473.06 233.39,470.34 233.76,467.68 234.13,465.2 234.51,463 234.88,461.18 235.25,459.82 235.63,458.98 236,458.7 236.35,458.94 236.7,459.64 237.05,460.8 237.4,462.39 237.75,464.35 238.1,466.66 238.45,469.24 238.8,472.04 239.15,474.98 239.5,478 239.85,481.02 240.2,483.96 240.55,486.76 240.9,489.34 241.25,491.65 241.6,493.61 241.95,495.2 242.3,496.36 242.65,497.06 243,497.3 243.36,497.17 243.72,496.77 244.09,496.11 244.45,495.21 244.81,494.1 245.17,492.78 245.53,491.3 245.9,489.68 246.26,487.97 246.62,486.2 246.98,484.4 247.34,482.63 247.7,480.92 248.07,479.3 248.43,477.82 248.79,476.5 249.15,475.39 249.51,474.49 249.88,473.83 250.24,473.43 250.6,473.3 252.5,477 254.5,488 256.5,503 258.5,511.5 261,516 264,518.8 268,520.4 275,521.2 283,521.3 289,521 291,522 292.5,530 294,521 295.5,530 297,524 298.5,531" fill="none" stroke="#ff0000" stroke-width="2.2" stroke-dasharray="3.8 1.0" stroke-linejoin="round"/>
<polyline points="311.3,511.33 311.61,513.4 311.92,518.82 312.23,525.51 312.54,530.93 312.85,533 313.16,530.77 313.47,524.92 313.78,517.7 314.09,511.85 314.4,509.62 314.71,511.85 315.02,517.7 315.33,524.92 315.64,530.77 315.95,533 316.26,530.6 316.57,524.33 316.88,516.58 317.19,510.3 317.5,507.91 317.81,510.3 318.12,516.58 318.43,524.33 318.74,530.6 319.05,533 319.36,530.44 319.67,523.74 319.98,515.46 320.29,508.76 320.6,506.2 320.91,508.76 321.22,515.46 321.53,523.74 321.84,530.44 322.15,533 322.46,530.28 322.77,523.15 323.08,514.34 323.39,507.21 323.7,504.48 324.01,507.21 324.32,514.34 324.63,523.15 324.94,530.28 325.25,533 325.56,530.11 325.87,522.56 326.18,513.21 326.49,505.66 326.8,502.77 327.11,505.66 327.42,513.21 327.73,522.56 328.04,530.11 328.35,533 328.66,529.95 328.97,521.96 329.28,512.09 329.59,504.11 329.9,501.06 330.21,504.11 330.52,512.09 330.83,521.96 331.14,529.95 331.45,533 331.76,529.79 332.07,521.37 332.38,510.97 332.69,502.56 333,499.35 333.31,502.56 333.62,510.97 333.93,521.37 334.24,529.79 334.55,533 334.86,529.62 335.17,520.78 335.48,509.85 335.79,501.01 336.1,497.63 336.41,501.01 336.72,509.85 337.03,520.78 337.34,529.62 337.65,533 337.96,529.46 338.27,520.19 338.58,508.73 338.89,499.46 339.2,495.92 339.51,499.46 339.82,508.73 340.13,520.19 340.44,529.46 340.75,533 341.06,529.3 341.37,519.6 341.68,507.61 341.99,497.91 342.3,494.21 342.61,497.91 342.92,507.61 343.23,519.6 343.54,529.3 343.85,533 344.16,529.13 344.47,519.01 344.78,506.49 345.09,496.36 345.4,492.49 345.71,496.36 346.02,506.49 346.33,519.01 346.64,529.13 346.95,533 347.26,529.04 347.57,518.66 347.88,505.84 348.19,495.46 348.5,491.5" fill="none" stroke="#ff0000" stroke-width="1.9" stroke-dasharray="3.4 1.0"/>
<polyline points="38.8,531 38.8,330.6 39.8,330.57 40.8,330.55 41.8,330.52 42.8,330.49 43.8,330.47 44.8,330.44 45.8,330.41 46.8,330.39 47.8,330.36 48.8,330.33 49.8,330.31 50.8,330.27 51.8,330.24 52.8,330.2 53.8,330.17 54.8,330.13 55.8,330.1 56.8,330.06 57.8,330.03 58.8,329.99 59.8,329.96 60.8,329.92 61.8,329.89 62.8,329.85 63.8,329.82 64.8,329.78 65.8,329.75 66.8,329.71 67.8,329.68 68.8,329.64 69.8,329.61 70.8,329.57 71.8,329.53 72.8,329.49 73.8,329.45 74.8,329.41 75.8,329.37 76.8,329.33 77.8,329.29 78.8,329.25 79.8,329.21 80.8,329.17 81.8,329.13 82.8,329.09 83.8,329.05 84.8,329.01 85.8,328.97 86.8,328.93 87.8,328.89 88.8,328.85 89.8,328.81 90.8,328.76 91.8,328.7 92.8,328.65 93.8,328.6 94.8,328.54 95.8,328.49 96.8,328.44 97.8,328.38 98.8,328.33 99.8,328.28 100.8,328.22 101.8,328.17 102.8,328.12 103.8,328.06 104.8,328.01 105.8,327.99 106.8,327.97 107.8,327.95 108.8,327.93 109.8,327.91 110.8,327.89 111.8,327.88 112.8,327.86 113.8,327.84 114.8,327.82 115.8,327.8 116.8,327.96 117.8,328.16 118.8,328.36 119.8,328.56 120.8,329.03 121.8,329.58 122.8,330.12 123.8,330.76 124.8,331.61 125.8,332.47 126.8,333.33 127.8,334.26 128.8,335.22 129.8,336.18 130.8,337.13 131.8,338.1 132.8,339.1 133.8,340.1 134.8,341.1 135.8,342.1 136.8,343.1 137.8,344.1 138.8,345.1 139.8,346.1 140.8,347.06 141.8,348.02 142.8,348.97 143.8,349.93 144.8,350.88 145.8,351.84 146.8,352.79 147.8,353.75 148.8,354.7 149.8,355.75 150.8,356.81 151.8,357.86 152.8,358.91 153.8,359.97 154.8,361.02 155.8,362.07 156.8,363.13 157.8,364.18 158.8,365.24 159.8,366.29 160.8,367.42 161.8,368.57 162.8,369.72 163.8,370.87 164.8,372.02 165.8,373.17 166.8,374.32 167.8,375.47 168.8,376.62 169.8,377.77 170.8,378.87 171.8,379.97 172.8,381.06 173.8,382.15 174.8,383.24 175.8,384.33 176.8,385.43 177.8,386.48 178.8,387.37 179.8,388.26 180.8,389.15 181.8,390.04 182.8,390.93 183.8,391.82 184.8,392.69 185.8,393.56 186.8,394.43 187.8,395.29 188.8,396.16 189.8,397.03 190.8,398.13 191.8,399.29 192.8,400.45 193.8,401.61 194.8,402.77 195.8,404.02 196.8,405.3 197.8,406.58 198.8,407.86 199.8,409.14 200.8,410.21 201.8,411.22 202.8,412.23 203.8,413.24 204.8,414.25 205.8,415.26 206.8,416.27 207.8,417.28 208.8,418.29 209.8,419.3 210.8,420.3 211.8,421.3 212.8,422.3 213.8,423.3 214.8,424.3 215.8,425.3 216.8,426.3 217.8,427.3 218.8,428.41 219.8,429.56 220.8,430.7 221.8,431.84 222.8,432.99 223.8,434.13 224.8,435.27 225.8,436.36 226.05,436.62 226.3,436.89 226.55,437.16 226.8,437.43 227.05,437.7 227.3,437.96 227.55,438.23 227.8,438.5 228.05,438.77 228.3,439.04 228.55,439.31 228.8,439.6 229.05,439.9 229.3,440.21 229.55,440.52 229.8,440.82 230.05,441.11 230.3,441.38 230.55,441.63 230.8,441.87 231.05,442.09 231.3,442.3 231.55,442.53 231.8,442.79 232.05,443.06 232.3,443.35 232.55,443.68 232.8,444.02 233.05,444.37 233.3,444.71 233.55,445.02 233.8,445.29 234.05,445.5 234.3,445.67 234.55,445.8 234.8,445.92 235.05,446.03 235.3,446.18 235.55,446.37 235.8,446.63 236.05,446.95 236.3,447.33 236.55,447.75 236.8,448.18 237.05,448.58 237.3,448.94 237.55,449.23 237.8,449.43 238.05,449.56 238.3,449.63 238.55,449.66 238.8,449.7 239.05,449.79 239.3,449.94 239.55,450.19 239.8,450.53 240.05,450.96 240.3,451.46 240.55,451.98 240.8,452.49 241.05,452.93 241.3,453.27 241.55,453.49 241.8,453.59 242.05,453.59 242.3,453.53 242.55,453.46 242.8,453.44 243.05,453.52 243.3,453.75 243.55,454.12 243.8,454.64 244.05,455.25 244.3,455.91 244.55,456.55 244.8,457.1 245.05,457.5 245.3,457.73 245.55,457.78 245.8,457.68 246.05,457.49 246.3,457.28 246.55,457.14 246.8,457.13 247.05,457.3 247.3,457.69 247.55,458.27 247.8,458.99 248.05,459.78 248.3,460.53 248.55,461.17 248.8,461.63 249.05,461.86 249.3,461.85 249.55,461.64 249.8,461.3 250.05,460.92 250.3,460.6 250.55,460.44 250.8,460.52 251.05,460.86 251.3,461.47 251.55,462.29 251.8,463.22 252.05,464.15 252.3,464.96 252.55,465.55 252.8,465.85 253.05,465.84 253.3,465.55 253.55,465.06 253.8,464.5 254.05,463.99 254.3,463.67 254.55,463.63 254.8,463.95 255.05,464.6 255.3,465.49 255.55,466.55 255.8,467.63 256.05,468.59 256.3,469.29 256.55,469.63 256.8,469.57 257.05,469.16 257.3,468.48 257.55,467.68 257.8,466.92 258.05,466.37 258.3,466.16 258.55,466.36 258.8,467.01 259.05,468.05 259.3,469.36 259.55,470.75 259.8,472.03 260.05,473.02 260.3,473.56 260.55,473.58 260.8,473.1 261.05,472.21 261.3,471.1 261.55,469.99 261.8,469.1 262.05,468.64 262.3,468.72 262.55,469.41 262.8,470.65 263.05,472.28 263.3,474.09 263.55,475.8 263.8,477.14 264.05,477.91 264.3,477.99 264.55,477.38 264.8,476.2 265.05,474.66 265.3,473.06 265.55,471.7 265.8,470.88 266.05,470.78 266.3,471.49 266.55,472.98 266.8,475.07 267.05,477.47 267.3,479.82 267.55,481.75 267.8,482.96 268.05,483.25 268.3,482.58 268.55,481.05 268.8,478.96 269.05,476.66 269.3,474.62 269.55,473.22 269.8,472.8 270.05,473.5 270.3,475.28 270.55,477.92 270.8,481.04 271.05,484.15 271.3,486.7 271.55,488.31 271.8,488.73 272.05,487.89 272.3,485.94 272.55,483.22 272.8,480.22 273.05,477.49 273.3,475.52 273.55,474.7 273.8,475.24 274.05,477.1 274.3,480.03 274.55,483.58 274.8,487.2 275.05,490.31 275.3,492.39 275.55,493.13 275.8,492.46 276.05,490.41 276.3,487.36 276.55,483.83 276.8,480.45 277.05,477.86 277.3,476.56 277.55,476.84 277.8,478.75 278.05,482.03 278.3,486.2 278.55,490.62 278.8,494.57 279.05,497.4 279.3,498.66 279.55,498.33 279.8,496.25 280.05,492.76 280.3,488.46 280.55,484.14 280.8,480.6 281.05,478.49 281.3,478.3 281.55,480.23 281.8,484.07 282.05,489.27 282.3,495.02 282.55,500.4 282.8,504.51 283.05,506.64 283.3,506.46 283.55,503.97 283.8,499.48 284.05,493.75 284.3,487.77 284.55,482.62 284.8,479.25 285.05,478.39 285.3,480.33 285.55,484.9 285.8,491.45 286.05,498.95 286.3,506.21 286.55,512 286.8,515.32 287.05,515.59 287.3,512.76 287.55,507.17 287.8,499.74 288.05,491.73 288.3,484.58 288.55,479.59 288.8,477.76 289.05,479.57 289.3,484.87 289.55,492.9 289.8,502.44 290.05,511.95 290.3,519.84 290.55,524.75 290.8,525.79 291.05,523.19 291.3,516.78 291.55,507.57 291.8,497.13 292.05,487.33 292.3,479.99 292.55,476.59 292.8,478 293.05,484.14 293.3,494.35 293.55,507.11 293.8,520.36 294.05,531.8 294.3,535 294.55,535 294.8,535 295.05,528.97 295.3,516.67 295.55,502.72 295.8,489.47 296.05,479.21 296.3,473.76 296.55,474.11 296.8,480.17 297.05,491.17 297.3,505.31 297.55,520.21 297.8,533.32 298.05,535 298.3,535 298.55,535 298.8,533.68 299.05,520.09 299.3,504.13 299.55,488.47 299.8,475.75 300.05,468.16 300.3,467.05 300.55,472.5 300.8,483.84 301.05,499.18 301.3,515.93 301.55,531.22 301.8,535 302.05,535 302.3,535 302.55,535 302.8,521.44 303.05,503.6 303.3,485.48 303.55,470.13 303.8,460.03 304.05,456.99 304.3,461.59 304.55,473.07 304.8,489.52 305.05,508.14 305.3,525.72 305.55,535 305.8,535 306.05,535 306.3,535 306.55,521.04 306.8,501.51 307.05,481.04 307.3,463.02 307.55,450.46 307.8,445.37 308.05,448.57 308.3,459.67 308.55,476.78 308.8,496.94 312.5,425 314.6,402" fill="none" stroke="#0000ff" stroke-width="2.1" stroke-linejoin="round"/>
<polyline points="314.6,402 315.5,280 317,412 318.5,280 320.1,398 321.8,280 323.4,388 325,280 326.6,374 328.3,280 331.3,354.7 333.3,305.3 334.7,350.7 336.7,309.3 338,344 339.3,319.3 340.7,342.7 343.3,318 344.7,338.7 346,326 347.6,336" fill="none" stroke="#0000ff" stroke-width="1.7" stroke-linejoin="miter" stroke-miterlimit="20"/>
<polygon points="299.5,531 299.5,467.5 300.3,466.5 303.6,458.2 307.7,445.8 310.5,436 312.5,425 314,412 315.3,398 315.4,430 314.4,531 312.4,531 312.2,484 311.3,484 311.1,531" fill="#0000ff"/>
</g>
<rect x="38.5" y="290.5" width="309" height="239" fill="none" stroke="#7a7a7a" stroke-width="1"/>
<rect x="57.7" y="484.6" width="139" height="30.6" fill="#fff" stroke="#888" stroke-width="0.9"/>
<line x1="63.2" y1="492.5" x2="91.8" y2="492.5" stroke="#ff0000" stroke-width="2" stroke-dasharray="3.6 1.4"/>
<line x1="63.2" y1="506.4" x2="91.8" y2="506.4" stroke="#0000ff" stroke-width="2.2"/>
<text transform="translate(95 496.6) scale(0.1)" font-size="86" textLength="480" lengthAdjust="spacingAndGlyphs" fill="#000" color="#000">Unapodized</text>
<text transform="translate(95 511.8) scale(0.1)" font-size="86" textLength="960" lengthAdjust="spacingAndGlyphs" fill="#000" color="#000">HTHU apodization, &#945;=1</text>
<text transform="translate(36.1 532.9) scale(0.1 0.11)" font-size="90" text-anchor="end">0</text>
<text transform="translate(36.1 496.13) scale(0.1 0.11)" font-size="90" text-anchor="end">200</text>
<text transform="translate(36.1 459.36) scale(0.1 0.11)" font-size="90" text-anchor="end">400</text>
<text transform="translate(36.1 422.59) scale(0.1 0.11)" font-size="90" text-anchor="end">600</text>
<text transform="translate(36.1 385.82) scale(0.1 0.11)" font-size="90" text-anchor="end">800</text>
<text transform="translate(36.1 349.05) scale(0.1 0.11)" font-size="90" text-anchor="end">1000</text>
<text transform="translate(36.1 312.28) scale(0.1 0.11)" font-size="90" text-anchor="end">1200</text>
<text transform="translate(38.45 541.2) scale(0.1)" font-size="90" text-anchor="middle" textLength="286.23" lengthAdjust="spacingAndGlyphs" fill="#000" color="#000">2019.4</text>
<text transform="translate(90.03 541.2) scale(0.1)" font-size="90" text-anchor="middle" textLength="286.23" lengthAdjust="spacingAndGlyphs" fill="#000" color="#000">2019.6</text>
<text transform="translate(141.6 541.2) scale(0.1)" font-size="90" text-anchor="middle" textLength="286.23" lengthAdjust="spacingAndGlyphs" fill="#000" color="#000">2019.8</text>
<text transform="translate(193.18 541.2) scale(0.1)" font-size="90" text-anchor="middle" textLength="208.17" lengthAdjust="spacingAndGlyphs" fill="#000" color="#000">2020</text>
<text transform="translate(244.75 541.2) scale(0.1)" font-size="90" text-anchor="middle" textLength="286.23" lengthAdjust="spacingAndGlyphs" fill="#000" color="#000">2020.2</text>
<text transform="translate(296.32 541.2) scale(0.1)" font-size="90" text-anchor="middle" textLength="286.23" lengthAdjust="spacingAndGlyphs" fill="#000" color="#000">2020.4</text>
<text transform="translate(347.9 541.2) scale(0.1)" font-size="90" text-anchor="middle" textLength="286.23" lengthAdjust="spacingAndGlyphs" fill="#000" color="#000">2020.6</text>
<text transform="translate(192.3 553.1) scale(0.1)" font-size="90" text-anchor="middle" textLength="670" lengthAdjust="spacingAndGlyphs" fill="#000" color="#000">Wavelength, nm</text>
<text transform="translate(12.6 410.9) rotate(-90) scale(0.1)" font-size="106" text-anchor="middle" textLength="624" lengthAdjust="spacingAndGlyphs" fill="#000" color="#000">Group delay ,ps</text>
<text transform="translate(0.2 291.5) scale(0.1)" font-size="180" fill="#000" color="#000">b</text>
</svg></body></html>
